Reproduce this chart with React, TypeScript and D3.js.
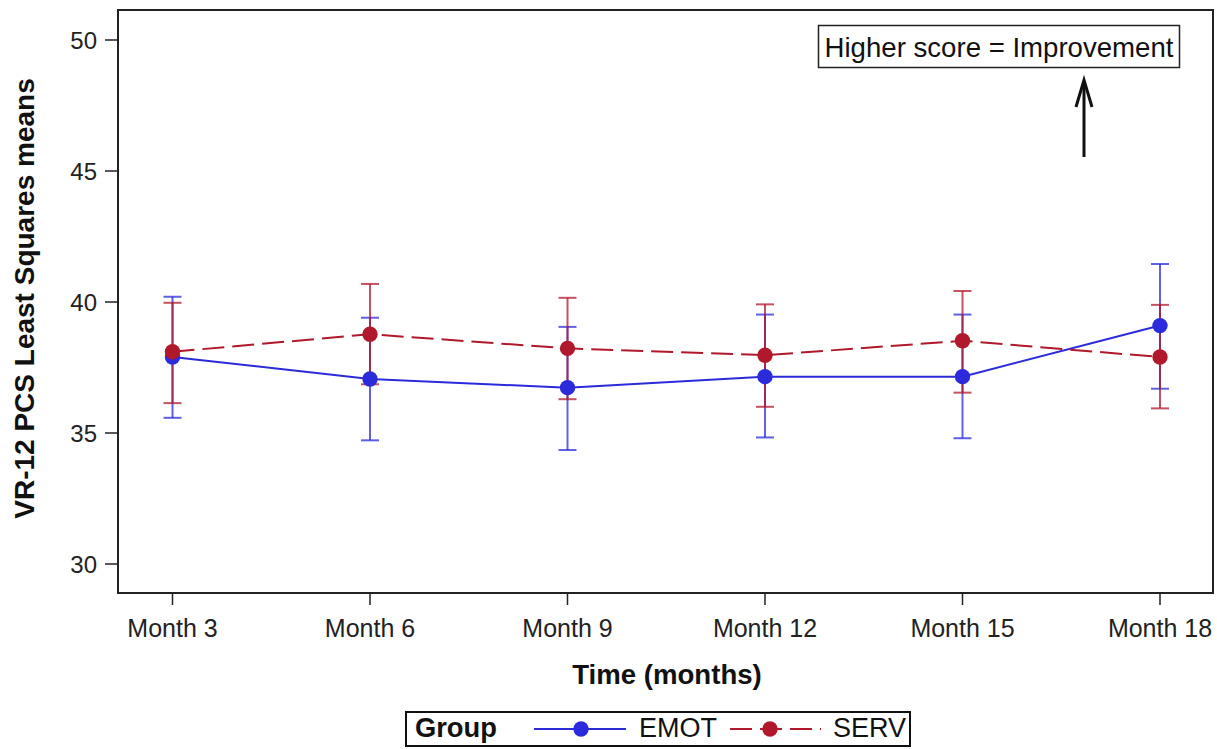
import React from "react";
import * as d3 from "d3";

const months = ["Month 3", "Month 6", "Month 9", "Month 12", "Month 15", "Month 18"];
const yTicks = [30, 35, 40, 45, 50];

// least squares means with lower / upper CI
const emotMean = [37.9, 37.06, 36.73, 37.15, 37.15, 39.1];
const emotLow = [35.58, 34.72, 34.35, 34.83, 34.8, 36.69];
const emotHigh = [40.2, 39.4, 39.05, 39.52, 39.52, 41.45];

const servMean = [38.1, 38.77, 38.23, 37.97, 38.52, 37.9];
const servLow = [36.14, 36.86, 36.29, 36.0, 36.54, 35.94];
const servHigh = [39.97, 40.69, 40.16, 39.91, 40.42, 39.89];

const W = 1217;
const H = 749;
const left = 118;
const right = 1213;
const top = 10;
const bottom = 593;

const BLUE = "#2b2bdb";
const RED = "#b0182b";
const FONT = "'Liberation Sans', Arial, sans-serif";

const App = () => {
  const x = d3.scalePoint().domain(months).range([172.5, 1160]);
  const y = d3.scaleLinear().domain([30, 50]).range([564, 40]);

  const line = d3
    .line<number>()
    .x((d, i) => x(months[i]) as number)
    .y(d => y(d));

  const series = [
    { name: "EMOT", mean: emotMean, low: emotLow, high: emotHigh, color: BLUE, dash: null },
    { name: "SERV", mean: servMean, low: servLow, high: servHigh, color: RED, dash: "22,8" },
  ];

  return (
    <svg
      width={W}
      height={H}
      style={{ position: "absolute", left: 0, top: 0, background: "#fff" }}
      fontFamily={FONT}
    >
      {/* plot frame */}
      <rect x={left} y={top} width={right - left} height={bottom - top} fill="none" stroke="#222" strokeWidth={2} />

      {/* y axis */}
      {yTicks.map(t => (
        <g key={t}>
          <line x1={105} x2={left} y1={y(t)} y2={y(t)} stroke="#222" strokeWidth={1.5} />
          <text x={97} y={y(t)} dy="0.36em" textAnchor="end" fontSize={24} fill="#222">
            {t}
          </text>
        </g>
      ))}
      <text
        transform={`translate(34 298.5) rotate(-90)`}
        textAnchor="middle"
        fontSize={28}
        fontWeight="bold"
        fill="#111"
      >
        VR-12 PCS Least Squares means
      </text>

      {/* x axis */}
      {months.map(m => (
        <g key={m}>
          <line x1={x(m)} x2={x(m)} y1={bottom} y2={605} stroke="#222" strokeWidth={1.5} />
          <text x={x(m)} y={637} textAnchor="middle" fontSize={25} fill="#222">
            {m}
          </text>
        </g>
      ))}
      <text x={667} y={684} textAnchor="middle" fontSize={27.6} fontWeight="bold" fill="#111">
        Time (months)
      </text>

      {/* error bars */}
      {series.map(s => (
        <g key={s.name + "err"} stroke={s.color} strokeOpacity={0.75} strokeWidth={2}>
          {months.map((m, i) => {
            const cx = x(m) as number;
            return (
              <g key={m}>
                <line x1={cx} x2={cx} y1={y(s.low[i])} y2={y(s.high[i])} />
                <line x1={cx - 9} x2={cx + 9} y1={y(s.low[i])} y2={y(s.low[i])} />
                <line x1={cx - 9} x2={cx + 9} y1={y(s.high[i])} y2={y(s.high[i])} />
              </g>
            );
          })}
        </g>
      ))}

      {/* lines and markers */}
      {series.map(s => (
        <g key={s.name}>
          <path
            d={line(s.mean) || ""}
            fill="none"
            stroke={s.color}
            strokeWidth={2}
            strokeDasharray={s.dash || undefined}
          />
          {s.mean.map((v, i) => (
            <circle key={i} cx={x(months[i]) as number} cy={y(v)} r={7.7} fill={s.color} />
          ))}
        </g>
      ))}

      {/* annotation */}
      <rect x={818.5} y={25.5} width={361} height={42} fill="#fff" stroke="#222" strokeWidth={1.5} />
      <text x={999} y={57} textAnchor="middle" fontSize={27.6} fill="#111">
        Higher score = Improvement
      </text>
      <line x1={1084} x2={1084} y1={82} y2={157} stroke="#111" strokeWidth={3} />
      <path d="M1076,107 L1084,80 L1092,107" fill="none" stroke="#111" strokeWidth={3} />

      {/* legend */}
      <rect x={406} y={712} width={504} height={34} fill="#fff" stroke="#111" strokeWidth={2} />
      <text x={415} y={737} fontSize={27.3} fontWeight="bold" fill="#111">
        Group
      </text>
      <line x1={534} x2={626} y1={729} y2={729} stroke={BLUE} strokeWidth={2} />
      <circle cx={581} cy={729} r={7.7} fill={BLUE} />
      <text x={639} y={737} fontSize={27} fill="#111">
        EMOT
      </text>
      <line x1={730} x2={821} y1={729} y2={729} stroke={RED} strokeWidth={2} strokeDasharray="22,8" />
      <circle cx={770} cy={729} r={7.7} fill={RED} />
      <text x={833} y={737} fontSize={27} fill="#111">
        SERV
      </text>
    </svg>
  );
};

export default App;
